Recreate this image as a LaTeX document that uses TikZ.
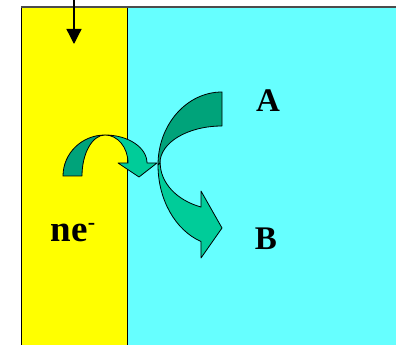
\documentclass[tikz,border=0pt]{standalone}
\usepackage{fontspec}
\setmainfont{Liberation Serif}
\usetikzlibrary{arrows.meta}
\definecolor{electrode}{RGB}{255,255,0}
\definecolor{solution}{RGB}{102,255,255}
\definecolor{arrowdark}{RGB}{0,163,122}
\definecolor{arrowlight}{RGB}{0,204,153}
\begin{document}
\begin{tikzpicture}[x=1pt, y=1pt,
        bandback/.style={fill=arrowdark, draw=black, line width=0.8pt, line join=round},
        bandfront/.style={fill=arrowlight, draw=black, line width=0.8pt, line join=round},
        specieslbl/.style={font=\fontsize{33}{36}\selectfont\bfseries, anchor=base, inner sep=0pt},
        electronlbl/.style={font=\fontsize{37}{40}\selectfont\bfseries, anchor=base, inner sep=0pt},
        feedline/.style={line width=1.3pt, -{Triangle[width=15pt, length=15pt]}}
      ]
      \useasboundingbox (0,0) rectangle (396,345);
      \def\celltop{338}
      % electrode and solution
      \fill[solution] (127,0) rectangle (396,\celltop);
      \fill[electrode] (21,0) rectangle (127,\celltop);
      \draw[line width=0.8pt] (21,0) -- (21,\celltop);
      \draw[line width=0.6pt] (127,0) -- (127,\celltop);
      \draw[black!70, line width=1.4pt] (21,\celltop) -- (396,\celltop);
      % current lead
      \coordinate (lead) at (74,345);
      \coordinate (leadend) at (74,301);
      \draw[feedline] (lead) -- (leadend);
      % electron transfer, small arrow
      \draw[bandback] (63,169)
        arc[start angle=180, end angle=90, x radius=42, y radius=41]
        arc[start angle=90, end angle=180, x radius=23, y radius=41] -- cycle;
      \draw[bandfront] (105,210)
        arc[start angle=90, end angle=0, x radius=42, y radius=28]
        -- (157,182) -- (139,168) -- (118,182) -- (128,182)
        arc[start angle=0, end angle=90, x radius=23, y radius=28] -- cycle;
      % A to B, big arrow
      \draw[bandback] (222,253)
        arc[start angle=90, end angle=180, x radius=64, y radius=73]
        -- (160,182)
        arc[start angle=180, end angle=90, x radius=62, y radius=37] -- cycle;
      \draw[bandfront] (158,180)
        arc[start angle=180, end angle=250.8, x radius=64, y radius=81]
        -- (201,87) -- (222,117) -- (201,154) -- (201,138)
        arc[start angle=250, end angle=180, x radius=62, y radius=47] -- cycle;
      % labels
      \node[specieslbl] (A) at (268,233) {A};
      \node[specieslbl] (B) at (266,95) {B};
      \node[electronlbl] (ne) at (73,103) {ne{\fontsize{22}{22}\selectfont\raisebox{12pt}{-}}};
    \end{tikzpicture}
\end{document}
